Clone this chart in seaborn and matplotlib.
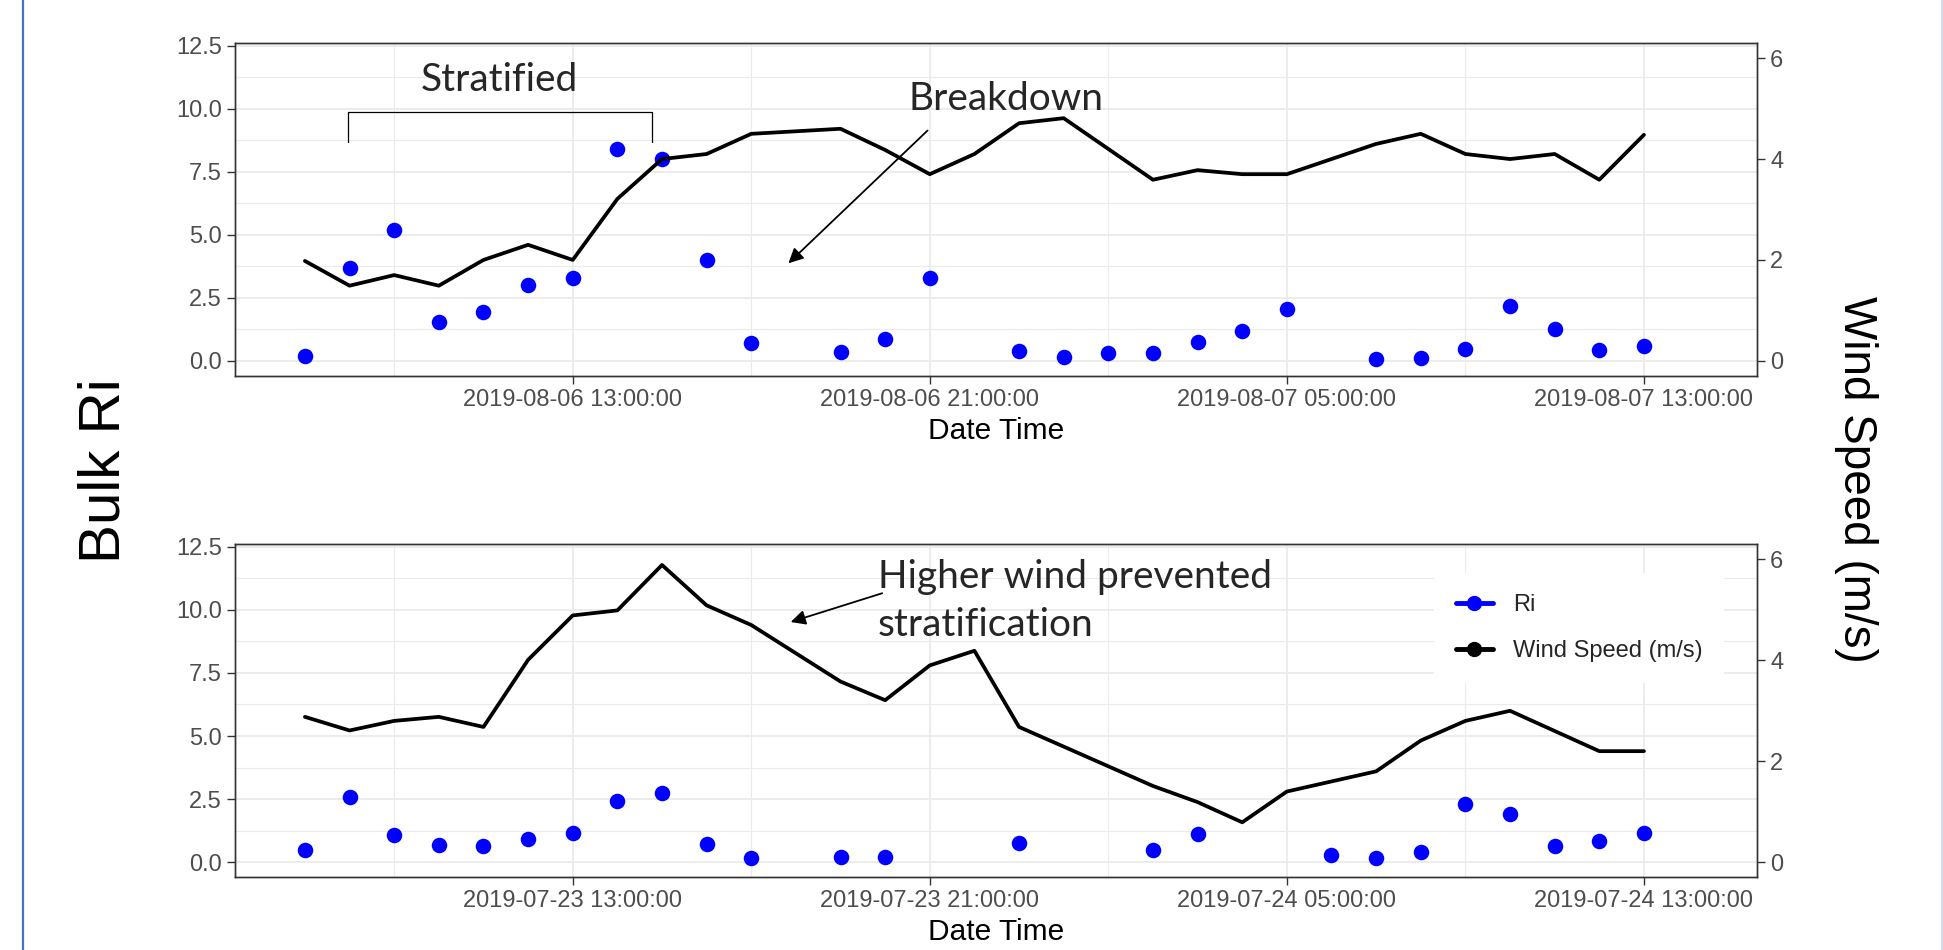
import numpy as np
import pandas as pd
import matplotlib
matplotlib.use("Agg")
import matplotlib.pyplot as plt
import matplotlib.dates as mdates
from matplotlib.lines import Line2D
import seaborn as sns

# ---------------- data ----------------
nan = np.nan
times_aug = pd.date_range("2019-08-06 07:00", "2019-08-07 13:00", freq="h")
ri_aug = [0.21, 3.67, 5.19, 1.56, 1.93, 2.99, 3.28, 8.40, 8.02, 4.00, 0.70, nan,
          0.34, 0.87, 3.28, nan, 0.40, 0.17, 0.30, 0.33, 0.73, 1.20, 2.05, nan,
          0.08, 0.13, 0.46, 2.19, 1.27, 0.42, 0.58]
wind_aug = [1.98, 1.49, 1.70, 1.49, 2.00, 2.30, 2.00, 3.21, 4.00, 4.10, 4.50, 4.55,
            4.60, 4.18, 3.70, 4.10, 4.71, 4.81, 4.20, 3.59, 3.78, 3.70, 3.70, 4.00,
            4.30, 4.50, 4.10, 4.00, 4.10, 3.59, 4.48]

times_jul = pd.date_range("2019-07-23 07:00", "2019-07-24 13:00", freq="h")
ri_jul = [0.49, 2.60, 1.06, 0.70, 0.65, 0.93, 1.16, 2.41, 2.76, 0.73, 0.17, nan,
          0.20, 0.22, nan, nan, 0.77, nan, nan, 0.49, 1.10, nan, nan, 0.27,
          0.17, 0.40, 2.29, 1.89, 0.63, 0.82, 1.16]
wind_jul = [2.88, 2.61, 2.80, 2.88, 2.68, 4.01, 4.89, 4.99, 5.89, 5.09, 4.70, 4.14,
            3.58, 3.21, 3.90, 4.19, 2.68, 2.29, 1.90, 1.51, 1.19, 0.79, 1.40, 1.60,
            1.80, 2.41, 2.80, 3.00, 2.60, 2.20, 2.20]

ticks_aug = ["2019-08-06 13:00", "2019-08-06 21:00", "2019-08-07 05:00", "2019-08-07 13:00"]
ticks_jul = ["2019-07-23 13:00", "2019-07-23 21:00", "2019-07-24 05:00", "2019-07-24 13:00"]
left_ticks = [0.0, 2.5, 5.0, 7.5, 10.0, 12.5]
right_ticks = [0, 2, 4, 6]

# ---------------- style ----------------
sns.set_theme(style="white")
plt.rcParams["font.family"] = ["Liberation Sans", "DejaVu Sans"]
ANNOT_FONT = ["Lato", "DejaVu Sans"]

W, H = 1943, 950
fig = plt.figure(figsize=(W / 100, H / 100), dpi=100)

AX_LEFT, AX_W, AX_H = 235 / W, (1757 - 235) / W, 333 / H
ax_top = fig.add_axes([AX_LEFT, 1 - 376 / H, AX_W, AX_H])
ax_bot = fig.add_axes([AX_LEFT, 1 - 877.3 / H, AX_W, AX_H])

GRID = "#EBEBEB"
DARK = "#333333"
TICKLAB = "#4D4D4D"


def style_panel(ax, times, ri, wind, ticks):
    sns.scatterplot(x=times, y=ri, ax=ax, color="#0000FF", s=125,
                    linewidth=0, legend=False, zorder=3)
    ax2 = ax.twinx()
    sns.lineplot(x=times, y=wind, ax=ax2, color="black", linewidth=2.7,
                 legend=False, zorder=3)

    x0 = times[0] - pd.Timedelta(minutes=94)
    x1 = times[-1] + pd.Timedelta(minutes=152)
    ax.set_xlim(x0, x1)
    ax.set_ylim(-0.6, 12.6)
    ax2.set_ylim(-0.3, 6.3)

    major = pd.to_datetime(ticks)
    minor = major - pd.Timedelta(hours=4)
    ax.set_xticks(major)
    ax.set_xticks(minor, minor=True)
    ax.xaxis.set_major_formatter(mdates.DateFormatter("%Y-%m-%d %H:%M:%S"))
    ax.set_yticks(left_ticks)
    ax.set_yticklabels([f"{v:.1f}" for v in left_ticks])
    ax.set_yticks(np.arange(1.25, 12.5, 2.5), minor=True)
    ax2.set_yticks(right_ticks)
    ax2.set_yticklabels([str(v) for v in right_ticks])

    ax.grid(True, which="major", color=GRID, linewidth=1.3)
    ax.grid(True, which="minor", color=GRID, linewidth=0.8)
    ax.set_axisbelow(True)

    for a in (ax, ax2):
        for sp in a.spines.values():
            sp.set_color(DARK)
            sp.set_linewidth(1.0)
        a.tick_params(which="major", length=5.5, width=1.0, color=DARK,
                      labelsize=17, labelcolor=TICKLAB, pad=4)
        a.tick_params(which="minor", length=0)
    ax.tick_params(axis="x", bottom=True)
    ax.tick_params(axis="y", left=True)
    ax2.tick_params(axis="y", right=True)
    ax.set_xlabel("Date Time", fontsize=21.5, color="black", labelpad=4)
    ax.set_ylabel("")
    ax2.set_ylabel("")
    return ax2


ax2_top = style_panel(ax_top, times_aug, ri_aug, wind_aug, ticks_aug)
ax2_bot = style_panel(ax_bot, times_jul, ri_jul, wind_jul, ticks_jul)

# ---------------- annotations (top) ----------------
T = pd.Timestamp
ax_top.text(T("2019-08-06 11:21"), 10.70, "Stratified", fontsize=28,
            family=ANNOT_FONT, ha="center", va="baseline")
br_l, br_r = T("2019-08-06 07:58"), T("2019-08-06 14:47")
ax_top.plot([br_l, br_l, br_r, br_r], [8.68, 9.87, 9.87, 8.68],
            color="black", linewidth=0.9, solid_joinstyle="round")
ax_top.text(T("2019-08-06 22:42"), 9.95, "Breakdown", fontsize=28,
            family=ANNOT_FONT, ha="center", va="baseline")
ax_top.annotate("", xy=(T("2019-08-06 17:50"), 3.87),
                xytext=(T("2019-08-06 20:57"), 9.13),
                arrowprops=dict(arrowstyle="-|>", color="black", lw=1.3,
                                mutation_scale=22, shrinkA=0, shrinkB=0))

# ---------------- annotations (bottom) ----------------
ax_bot.text(T("2019-07-23 19:50"), 8.96, "Higher wind prevented\nstratification",
            fontsize=28, family=ANNOT_FONT, ha="left", va="baseline",
            linespacing=1.43, zorder=6)
ax_bot.annotate("", xy=(T("2019-07-23 17:53"), 9.52),
                xytext=(T("2019-07-23 19:56"), 10.66),
                arrowprops=dict(arrowstyle="-|>", color="black", lw=1.3,
                                mutation_scale=22, shrinkA=0, shrinkB=0))

# ---------------- legend ----------------
handles = [Line2D([], [], color="#0000FF", lw=3.5, marker="o", ms=10),
           Line2D([], [], color="black", lw=3.5, marker="o", ms=10)]
leg = ax2_bot.legend(handles, ["Ri", "Wind Speed (m/s)"], loc="upper left",
                     bbox_to_anchor=(0.788, 0.914), borderaxespad=0,
                     fontsize=17, handlelength=1.6, handletextpad=0.85,
                     labelspacing=1.0, borderpad=0.9, frameon=True,
                     fancybox=False, framealpha=1, facecolor="white",
                     edgecolor="white")
leg.get_frame().set_linewidth(0)

# ---------------- shared titles ----------------
fig.text(104 / W, 1 - 471 / H, "Bulk Ri", rotation=90, fontsize=42,
         ha="center", va="center", color="black")
fig.text(1856 / W, 1 - 479 / H, "Wind Speed (m/s)", rotation=270, fontsize=33,
         ha="center", va="center", color="black")

# slide edges
fig.add_artist(Line2D([23.3 / W, 23.3 / W], [0, 1], color="#4472C4", lw=1.6,
                      transform=fig.transFigure))
fig.add_artist(Line2D([1941.5 / W, 1941.5 / W], [0, 1], color="#C9D7F2", lw=1.2,
                      transform=fig.transFigure))

fig.savefig("out.png", dpi=100, facecolor="white")
